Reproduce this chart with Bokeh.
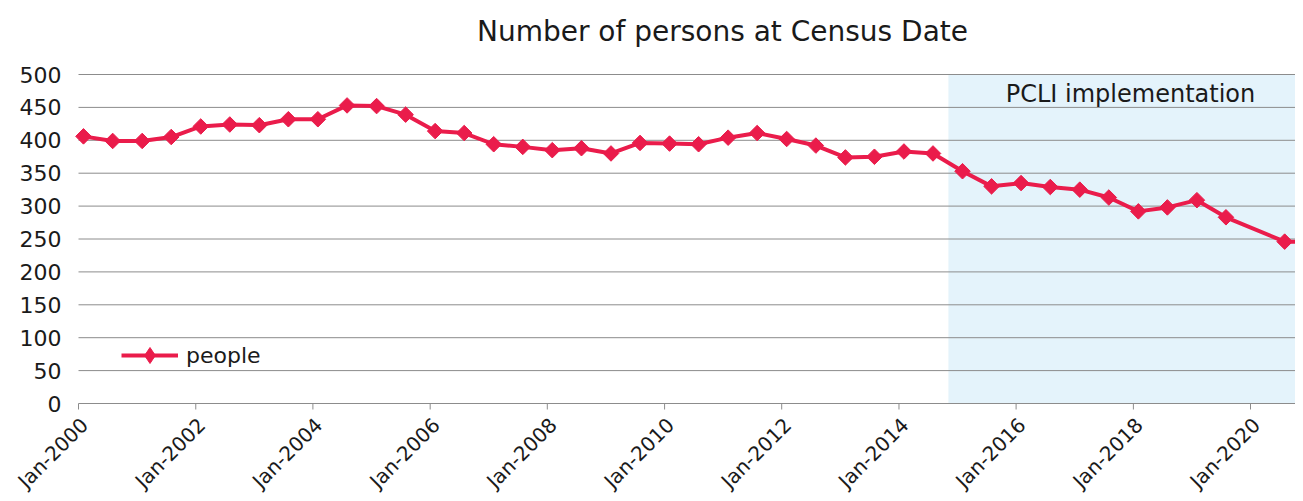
import math
import pandas as pd
from bokeh.plotting import figure
from bokeh.models import BoxAnnotation, Range1d, Legend, ColumnDataSource
from bokeh.core.properties import value
from bokeh.embed import file_html
from bokeh.resources import INLINE

# ---------------- data ----------------
census_dates = [
    "2000-02-01", "2000-08-01", "2001-02-01", "2001-08-01", "2002-02-01", "2002-08-01",
    "2003-02-01", "2003-08-01", "2004-02-01", "2004-08-01", "2005-02-01", "2005-08-01",
    "2006-02-01", "2006-08-01", "2007-02-01", "2007-08-01", "2008-02-01", "2008-08-01",
    "2009-02-01", "2009-08-01", "2010-02-01", "2010-08-01", "2011-02-01", "2011-08-01",
    "2012-02-01", "2012-08-01", "2013-02-01", "2013-08-01", "2014-02-01", "2014-08-01",
    "2015-02-01", "2015-08-01", "2016-02-01", "2016-08-01", "2017-02-01", "2017-08-01",
    "2018-02-01", "2018-08-01", "2019-02-01", "2019-08-01", "2020-08-01", "2021-02-01",
]
people = [
    406, 399, 399, 405, 421, 424,
    423, 432, 432, 453, 452, 439,
    414, 411, 394, 390, 385, 388,
    380, 396, 395, 394, 404, 411,
    402, 392, 374, 375, 383, 380,
    353, 330, 335, 329, 325, 313,
    292, 298, 309, 283, 246, 245,
]
tick_years = [2000, 2002, 2004, 2006, 2008, 2010, 2012, 2014, 2016, 2018, 2020]
y_ticks = [0, 50, 100, 150, 200, 250, 300, 350, 400, 450, 500]
pcli_start = "2014-11-05"
pcli_label = "PCLI implementation"
series_name = "people"
title_text = "Number of persons at Census Date"

# ---------------- layout (pixels) ----------------
W, H = 1295, 493
AXIS_LEFT_PX = 78            # pixel column of Jan-2000
Y0_PX, Y500_PX = 403, 74     # pixel rows of value 0 and 500
PX_PER_YEAR = 58.6
x_start = pd.Timestamp("2000-01-01")
scale_y = (Y0_PX - Y500_PX) / 500.0


def px_to_x(px):
    return x_start + pd.Timedelta(days=365.25 * (px - AXIS_LEFT_PX) / PX_PER_YEAR)


def px_to_y(py):
    return (Y0_PX - py) / scale_y


x_lo, x_hi = px_to_x(0), px_to_x(W)

FONT = "DejaVu Sans"
RED = "#EA1C4B"
GRID = "#8c8c8c"
TXT = "#1a1a1a"

dates = pd.to_datetime(census_dates)
p = figure(width=W, height=H, output_backend="svg", toolbar_location=None,
           x_axis_location=None, y_axis_location=None,
           x_range=Range1d(x_lo, x_hi), y_range=Range1d(px_to_y(H), px_to_y(0)),
           min_border_left=0, min_border_right=0, min_border_top=0, min_border_bottom=0)
p.outline_line_color = None
p.background_fill_color = "white"
p.border_fill_color = "white"
p.xgrid.visible = False
p.ygrid.visible = False

# shaded PCLI period
band = BoxAnnotation(left=pd.Timestamp(pcli_start), bottom=0, top=500,
                     fill_color="#E4F3FB", fill_alpha=1.0, line_color=None, level="image")
p.add_layout(band)

# horizontal grid lines (the one at 0 is the category axis line)
grid_src = ColumnDataSource(dict(x0=[x_start] * len(y_ticks), x1=[x_hi] * len(y_ticks),
                                 y=y_ticks, lab=[str(v) for v in y_ticks]))
p.segment(x0="x0", y0="y", x1="x1", y1="y", source=grid_src, line_color=GRID, line_width=1)
# value axis labels
p.text(x="x0", y="y", text="lab", source=grid_src, text_align="right", text_baseline="middle",
       x_offset=-17, text_font=value(FONT), text_font_size="22px", text_color=TXT)

# title and band label
p.text(x=[px_to_x(722)], y=[px_to_y(31)], text=[title_text], text_align="center",
       text_baseline="middle", text_font=value(FONT), text_font_size="28px", text_color=TXT)
p.text(x=[px_to_x(1130)], y=[px_to_y(93)], text=[pcli_label], text_align="center",
       text_baseline="middle", text_font=value(FONT), text_font_size="24px", text_color=TXT)

# date axis: tick marks and rotated labels
tick_dates = pd.to_datetime([f"{y}-01-01" for y in tick_years])
tick_src = ColumnDataSource(dict(x=tick_dates, y0=[0] * len(tick_dates),
                                 y1=[px_to_y(Y0_PX + 6)] * len(tick_dates),
                                 lab=[d.strftime("%b-%Y") for d in tick_dates]))
p.segment(x0="x", y0="y0", x1="x", y1="y1", source=tick_src, line_color=GRID, line_width=1)
p.text(x="x", y="y0", text="lab", source=tick_src, angle=math.pi / 4, text_align="right",
       text_baseline="middle", x_offset=6, y_offset=18, text_font=value(FONT),
       text_font_size="20px", text_color=TXT)

# series
src = ColumnDataSource(dict(x=dates, y=people))
r_line = p.line("x", "y", source=src, line_color=RED, line_width=4)
r_key = p.scatter("x", "y", source=src, marker="diamond", size=11,
                  fill_color=RED, line_color=RED, line_width=1)
p.scatter("x", "y", source=src, marker="square", angle=math.pi / 4, size=11,
          fill_color=RED, line_color=RED, line_width=1)

legend = Legend(items=[(series_name, [r_line, r_key])], location=(121, 118))
legend.padding = 0
legend.margin = 0
legend.spacing = 0
legend.border_line_color = None
legend.background_fill_alpha = 0
legend.glyph_width = 57
legend.glyph_height = 40
legend.label_standoff = 8
legend.label_text_font = FONT
legend.label_text_font_size = "22px"
legend.label_text_color = TXT
p.add_layout(legend, "center")

open("out.html", "w").write(file_html(p, INLINE))
